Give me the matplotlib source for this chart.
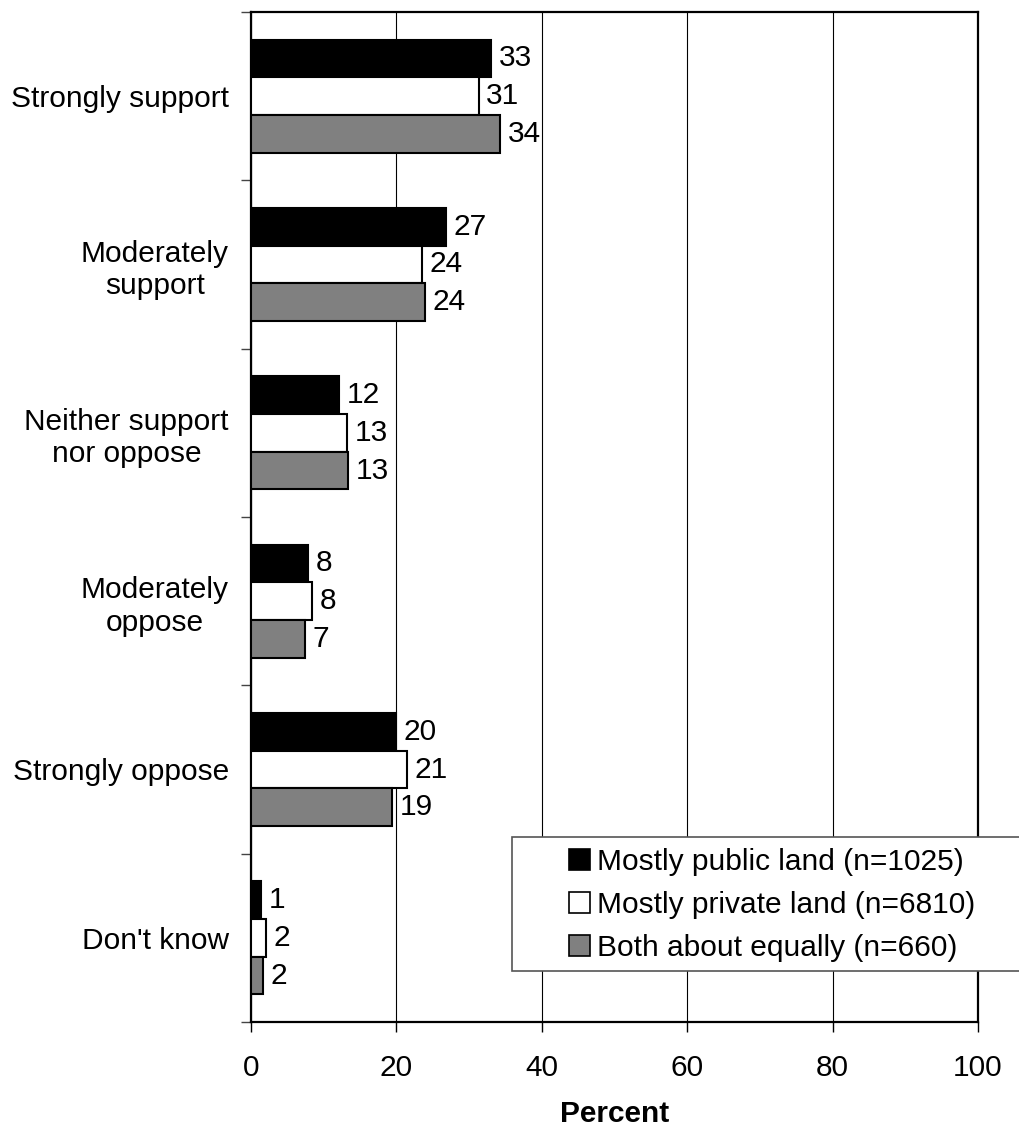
import numpy as np
import matplotlib
matplotlib.use("Agg")
import matplotlib.pyplot as plt
from matplotlib.patches import Rectangle

plt.rcParams["font.family"] = ["Liberation Sans", "DejaVu Sans"]

categories = ["Strongly support", "Moderately\nsupport", "Neither support\nnor oppose",
              "Moderately\noppose", "Strongly oppose", "Don't know"]
series_names = ["Mostly public land (n=1025)", "Mostly private land (n=6810)",
                "Both about equally (n=660)"]
public_vals = [33.0, 26.8, 12.1, 7.8, 19.9, 1.4]
private_vals = [31.3, 23.5, 13.2, 8.4, 21.4, 2.1]
both_vals = [34.3, 23.9, 13.4, 7.4, 19.4, 1.7]
public_labels = [33, 27, 12, 8, 20, 1]
private_labels = [31, 24, 13, 8, 21, 2]
both_labels = [34, 24, 13, 7, 19, 2]
x_ticks = [0, 20, 40, 60, 80, 100]
xlabel = "Percent"

g_colors = ["black", "white", "#808080"]
g_fontsize = 21.5
g_bar_h = 0.224

fig = plt.figure(figsize=(10.2, 11.3), dpi=100)
ax = fig.add_axes([251 / 1020, 108 / 1130, 727 / 1020, 1010 / 1130])

y = np.arange(len(categories))
all_vals = [public_vals, private_vals, both_vals]
all_labels = [public_labels, private_labels, both_labels]
handles = []
for k in range(3):
    bars = ax.barh(y + (k - 1) * g_bar_h, all_vals[k], height=g_bar_h, color=g_colors[k],
                   edgecolor="black", linewidth=1.5, zorder=3, label=series_names[k])
    ax.bar_label(bars, labels=[str(v) for v in all_labels[k]], padding=5.5, fontsize=g_fontsize)
    handles.append(bars)

ax.set_xlim(0, 100)
ax.set_ylim(len(categories) - 0.5, -0.5)
ax.set_xticks(x_ticks)
ax.set_xticklabels([str(t) for t in x_ticks], fontsize=g_fontsize)
ax.tick_params(axis="x", direction="out", length=7, width=1, pad=16)
ax.set_xlabel(xlabel, fontsize=g_fontsize, fontweight="bold", labelpad=13)

# category boundaries as major ticks, names on minor ticks
ax.set_yticks(np.arange(-0.5, len(categories), 1.0))
ax.set_yticklabels([])
ax.set_yticks(y, minor=True)
ax.set_yticklabels(categories, minor=True, fontsize=g_fontsize)
for t in ax.get_yticklabels(minor=True):
    t.set_multialignment("center")
ax.tick_params(axis="y", which="major", direction="out", length=7, width=1, color="#444444")
ax.tick_params(axis="y", which="minor", length=0, pad=16)

ax.grid(axis="x", color="black", linewidth=0.8, zorder=0)
for s in ax.spines.values():
    s.set_linewidth(1.6)
    s.set_color("black")

# legend box sticks out past the right edge of the plot
fig.patches.append(Rectangle((512 / 1020, 159 / 1130), 520 / 1020, 134 / 1130,
                             transform=fig.transFigure, facecolor="white",
                             edgecolor="#555555", linewidth=1.2, zorder=5))
leg = fig.legend(handles=handles, loc="upper left", bbox_to_anchor=(569 / 1020, 1 - 848 / 1130),
                 frameon=False, fontsize=g_fontsize, handlelength=0.7, handleheight=0.7,
                 handletextpad=0.25, labelspacing=0.5, borderpad=0, borderaxespad=0)
leg.set_zorder(6)
for h in leg.legend_handles:
    h.set_linewidth(1.2)

plt.savefig("out.png", dpi=100)
